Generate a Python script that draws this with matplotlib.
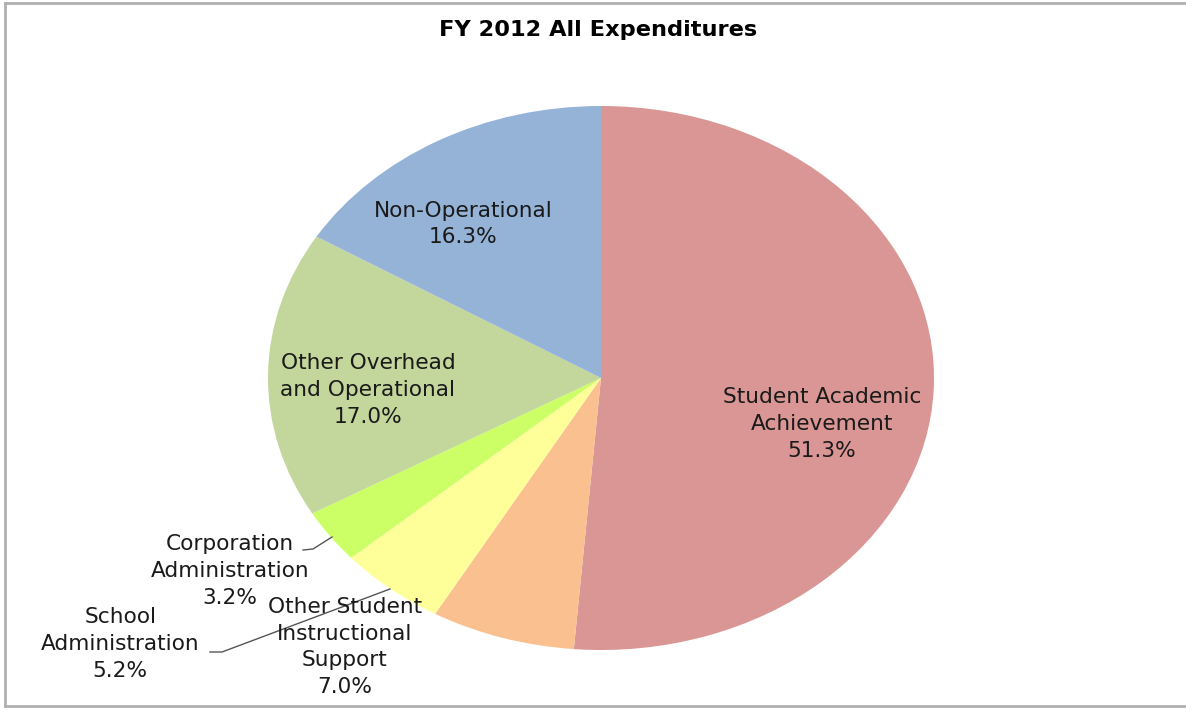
import matplotlib
matplotlib.use("Agg")
import matplotlib.pyplot as plt
from matplotlib.lines import Line2D

# Dữ liệu
categories = ["Student Academic\nAchievement", "Other Student\nInstructional\nSupport",
              "School\nAdministration", "Corporation\nAdministration",
              "Other Overhead\nand Operational", "Non-Operational"]
values = [51.3, 7.0, 5.2, 3.2, 17.0, 16.3]
colors = ["#D99694", "#FAC090", "#FFFF99", "#CCFF66", "#C3D69B", "#95B3D7"]

# vị trí nhãn (toạ độ dữ liệu của trục tròn)
label_pos = [(0.664, -0.169), (-0.769, -0.989), (-1.444, -0.978),
             (-1.114, -0.710), (-0.700, -0.044), (-0.414, 0.566)]

W, H = 1186, 710
fig = plt.figure(figsize=(W / 100, H / 100), dpi=100)
cx, cy, rx, ry = 601, 378, 333, 272
ax = fig.add_axes([(cx - rx) / W, (H - cy - ry) / H, 2 * rx / W, 2 * ry / H])

wedges, _ = ax.pie(values, colors=colors, startangle=90, counterclock=False,
                   wedgeprops={"linewidth": 0})
ax.set_aspect("auto")
ax.set_xlim(-1, 1)
ax.set_ylim(-1, 1)
ax.axis("off")

font = "DejaVu Sans"
for (lx, ly), name, v in zip(label_pos, categories, values):
    ax.text(lx, ly, f"{name}\n{v:.1f}%", ha="center", va="center", fontsize=15.6,
            family=font, color="#1a1a1a", linespacing=1.42, clip_on=False)

# đường dẫn cho các lát nhỏ
def px(x, y):
    return ((x - cx) / rx, (cy - y) / ry)

for pts in [[(303, 550), (313, 549), (332, 537)],
            [(210, 652), (222, 652), (390, 589)]]:
    d = [px(*p) for p in pts]
    ax.add_line(Line2D([p[0] for p in d], [p[1] for p in d], color="#555555",
                       linewidth=1, clip_on=False))

fig.text(598 / W, 1 - 30 / H, "FY 2012 All Expenditures", ha="center", va="center",
         fontsize=16.2, fontweight="bold", family=font)

# khung viền
for xs, ys in [([5, W], [3, 3]), ([5, 5], [3, 706]), ([5, W], [706, 706])]:
    fig.add_artist(Line2D([x / W for x in xs], [1 - y / H for y in ys],
                          color="#b0b0b0", linewidth=2))

fig.savefig("out.png", dpi=100)
